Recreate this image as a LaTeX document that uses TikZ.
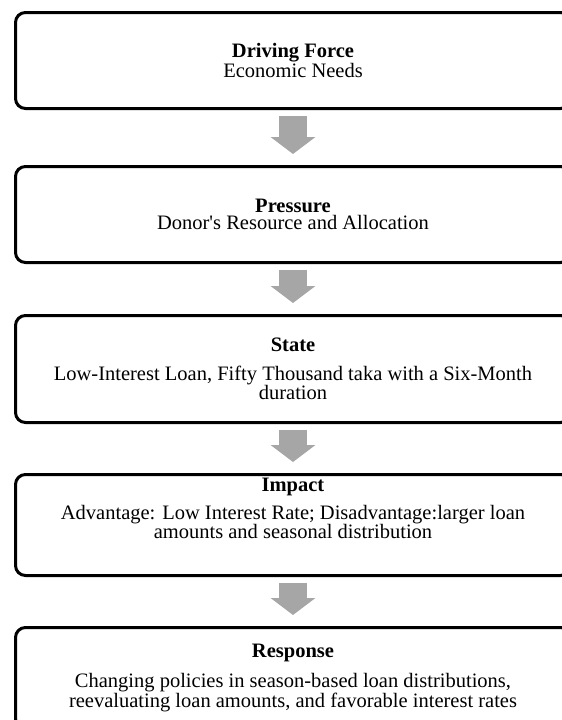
\documentclass[tikz,border=0pt]{standalone}
\usepackage{fontspec}
\setmainfont{Liberation Serif}
\usetikzlibrary{arrows.meta,positioning}

\begin{document}
\begin{tikzpicture}[
  x=1pt, y=-1pt,
  node distance=50pt,
  stage/.style={draw,line width=3pt,rounded corners=10pt,align=center,
    minimum width=555pt,inner sep=0pt,font=\fontsize{20.5}{17.5}\selectfont},
  flow/.style={draw=black!35,line width=28pt,
    -{Triangle[width=44pt,length=17pt]},shorten <=6pt,shorten >=11pt}
]
  \useasboundingbox (0,0) rectangle (562,720);
  \clip (0,0) rectangle (562,720);
  \node[stage,minimum height=96pt,anchor=north west] (force) at (14,11)
    {\textbf{Driving Force}\\Economic Needs};
  \node[stage,minimum height=96pt,below=55pt of force] (pressure)
    {\textbf{Pressure}\\Donor\textquotesingle s Resource and Allocation};
  \node[stage,minimum height=107pt,below=of pressure] (state)
    {\textbf{State}\\[11pt]Low-Interest Loan, Fifty Thousand taka with a Six-Month\\duration};
  \node[stage,minimum height=101pt,text depth=33pt,below=49pt of state] (impact)
    {\textbf{Impact}\\[8pt]Advantage: Low Interest Rate; Disadvantage:larger loan\\amounts and seasonal distribution};
  \node[stage,minimum height=101pt,below=49pt of impact] (response)
    {\textbf{Response}\\[10pt]Changing policies in season-based loan distributions,\\reevaluating loan amounts, and favorable interest rates};
  \draw[flow] (force) -- (pressure);
  \draw[flow] (pressure) -- (state);
  \draw[flow] (state) -- (impact);
  \draw[flow] (impact) -- (response);
\end{tikzpicture}
\end{document}
